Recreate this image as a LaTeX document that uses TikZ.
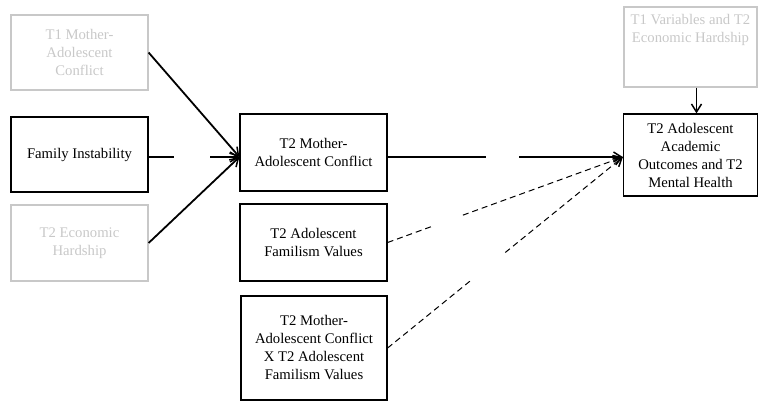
\documentclass[tikz,border=0pt]{standalone}
\usepackage{fontspec}
\setmainfont{Liberation Serif}
\usetikzlibrary{arrows.meta,calc}
\definecolor{lightgrey}{RGB}{200,200,200}
\tikzset{
  box/.style={draw, line width=1.2pt, align=center, inner sep=3pt,
    font=\fontsize{14.7}{18}\selectfont},
  greybox/.style={box, draw=lightgrey, text=lightgrey},
  path/.style={line width=1.8pt},
  modpath/.style={line width=1pt, dash pattern=on 6pt off 4pt},
  tip/.style={-{Straight Barb[length=8pt,width=10pt,line width=1.5pt]}}
}
\begin{document}
\begin{tikzpicture}[x=1pt,y=-1pt]
\useasboundingbox (0,0) rectangle (758,405);
% predictors on the left
\node[greybox, minimum width=137, minimum height=75] (mconfA) at (79.5,52.5)
  {T1 Mother-\\Adolescent\\Conflict};
\node[box, minimum width=137, minimum height=75] (instab) at (79.5,154.5)
  {Family Instability};
\node[greybox, minimum width=137, minimum height=76] (hardB) at (79.5,243)
  {T2 Economic\\Hardship};
% middle column
\node[box, minimum width=147, minimum height=77] (mconfB) at (313.5,152.5)
  {T2 Mother-\\Adolescent Conflict};
\node[box, minimum width=147, minimum height=77] (famval) at (313.5,242.5)
  {T2 Adolescent\\Familism Values};
\node[box, minimum width=146, minimum height=104] (interact) at (314,348)
  {T2 Mother-\\Adolescent Conflict\\X T2 Adolescent\\Familism Values};
% outcomes and controls
\node[greybox, minimum width=133, text height=29pt, text depth=39pt, inner ysep=6pt]
  (ctrl) at (690.5,47) {T1 Variables and T2\\Economic Hardship};
\node[box, minimum width=134, minimum height=82] (outc) at (690.5,155)
  {T2 Adolescent\\Academic\\Outcomes and T2\\Mental Health};
%
\coordinate (inB) at ([yshift=-4.5pt]mconfB.west);
\coordinate (outB) at ([yshift=-4.5pt]mconfB.east);
\coordinate (inO) at ([yshift=-2pt]outc.west);
\draw[path, tip] (mconfA.east) -- (inB);
\draw[path, tip] (hardB.east) -- (inB);
\draw[path] ([yshift=-2.5pt]instab.east) -- ($([yshift=-2.5pt]instab.east)!0.28!(inB)$);
\draw[path, tip] ($([yshift=-2.5pt]instab.east)!0.68!(inB)$) -- (inB);
\draw[path] (outB) -- ($(outB)!0.42!(inO)$);
\draw[path, tip] ($(outB)!0.56!(inO)$) -- (inO);
\draw[path, tip] ([xshift=6pt]ctrl.south) -- ([xshift=6pt]outc.north);
%
\draw[modpath] (famval.east) -- ($(famval.east)!0.19!(inO)$);
\draw[modpath, tip] ($(famval.east)!0.32!(inO)$) -- (inO);
\draw[modpath] (interact.east) -- ($(interact.east)!0.36!(inO)$);
\draw[modpath, tip] ($(interact.east)!0.50!(inO)$) -- (inO);
\end{tikzpicture}
\end{document}
